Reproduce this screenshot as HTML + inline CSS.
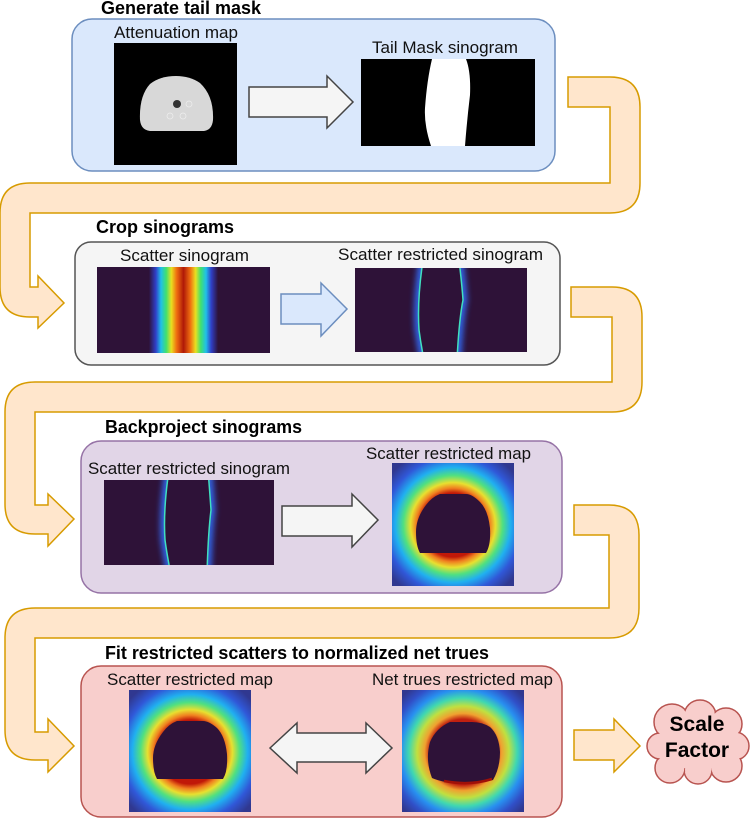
<!DOCTYPE html>
<html><head><meta charset="utf-8"><style>
html,body{margin:0;padding:0;background:#fff;}
svg{display:block;}
text{font-family:"Liberation Sans",sans-serif;}
.t{font-weight:bold;font-size:18px;fill:#000;}
.l{font-size:17px;fill:#111;}
</style></head><body>
<svg width="750" height="818" viewBox="0 0 750 818" xmlns="http://www.w3.org/2000/svg">
<defs>
<linearGradient id="sg" x1="0" x2="1" y1="0" y2="0">
<stop offset="0" stop-color="#2e1238"/><stop offset="0.30" stop-color="#2e1238"/>
<stop offset="0.34" stop-color="#3040c8"/><stop offset="0.37" stop-color="#20c0e8"/>
<stop offset="0.40" stop-color="#40e070"/><stop offset="0.43" stop-color="#e8e020"/>
<stop offset="0.46" stop-color="#f07010"/><stop offset="0.50" stop-color="#b01808"/>
<stop offset="0.54" stop-color="#f07010"/><stop offset="0.57" stop-color="#e8e020"/>
<stop offset="0.60" stop-color="#40e070"/><stop offset="0.63" stop-color="#20c0e8"/>
<stop offset="0.66" stop-color="#3040c8"/><stop offset="0.70" stop-color="#2e1238"/>
<stop offset="1" stop-color="#2e1238"/>
</linearGradient>
<radialGradient id="rgA" gradientUnits="userSpaceOnUse" cx="453" cy="525" r="80">
<stop offset="0.40" stop-color="#c01808"/><stop offset="0.46" stop-color="#f08020"/>
<stop offset="0.53" stop-color="#e8e030"/><stop offset="0.62" stop-color="#50e080"/>
<stop offset="0.72" stop-color="#20b0f0"/><stop offset="0.85" stop-color="#3058d8"/>
<stop offset="1" stop-color="#303890"/>
</radialGradient>
<radialGradient id="rgB" gradientUnits="userSpaceOnUse" cx="190" cy="752" r="80">
<stop offset="0.40" stop-color="#c01808"/><stop offset="0.46" stop-color="#f08020"/>
<stop offset="0.53" stop-color="#e8e030"/><stop offset="0.62" stop-color="#50e080"/>
<stop offset="0.72" stop-color="#20b0f0"/><stop offset="0.85" stop-color="#3058d8"/>
<stop offset="1" stop-color="#303890"/>
</radialGradient>
<radialGradient id="rgC" gradientUnits="userSpaceOnUse" cx="463" cy="752" r="82">
<stop offset="0.40" stop-color="#c02010"/><stop offset="0.47" stop-color="#f0a030"/>
<stop offset="0.56" stop-color="#c0e040"/><stop offset="0.66" stop-color="#40d8b0"/>
<stop offset="0.76" stop-color="#2890f0"/><stop offset="0.88" stop-color="#3050c8"/>
<stop offset="1" stop-color="#303890"/>
</radialGradient>
<filter id="bl" x="-50%" y="-10%" width="200%" height="120%"><feGaussianBlur stdDeviation="3"/></filter>
<clipPath id="c2"><rect x="355" y="268" width="172" height="84"/></clipPath>
<clipPath id="c3"><rect x="104" y="480" width="170" height="85"/></clipPath>
</defs>

<!-- Connectors -->
<g fill="#ffe6cc" stroke="#d79b00" stroke-width="1.5">
<path d="M568,77 L610,77 Q640,77 640,107 L640,183 Q640,213 610,213 L30,213 L30,287 L38,287 L38,276 L64,303 L38,328 L38,317 L30,317 Q0,317 0,287 L0,213 Q0,183 30,183 L610,183 L610,107 L568,107 Z"/>
<path d="M571,287 L612,287 Q642,287 642,317 L642,382 Q642,412 612,412 L35,412 L35,505 L48,505 L48,494 L74,519 L48,546 L48,534 L35,534 Q5,534 5,504 L5,412 Q5,382 35,382 L612,382 L612,317 L571,317 Z"/>
<path d="M574,505 L609,505 Q639,505 639,535 L639,608 Q639,638 609,638 L35,638 L35,732 L48,732 L48,719 L74,746 L48,772 L48,760 L35,760 Q5,760 5,730 L5,638 Q5,608 35,608 L609,608 L609,535 L574,535 Z"/>
<path d="M574,730 L614,730 L614,719 L640,746 L614,772 L614,760 L574,760 Z"/>
</g>

<!-- Box 1 -->
<text class="t" x="101" y="14" textLength="160" lengthAdjust="spacingAndGlyphs">Generate tail mask</text>
<rect x="72" y="19" width="483" height="152" rx="20" fill="#dae8fc" stroke="#6c8ebf" stroke-width="1.5"/>
<text class="l" x="114" y="38" textLength="124" lengthAdjust="spacingAndGlyphs">Attenuation map</text>
<rect x="114" y="43" width="123" height="122" fill="#000"/>
<path d="M150,131 L204,131 Q212,130 213,120 Q214,96 200,83 Q190,76 176,76 Q160,76 150,84 Q139,96 140,120 Q141,130 150,131 Z" fill="#d8d8d8"/>
<circle cx="177" cy="104" r="4" fill="#333"/>
<circle cx="170" cy="116" r="3" fill="none" stroke="#eee" stroke-width="0.7"/>
<circle cx="183" cy="116" r="3" fill="none" stroke="#eee" stroke-width="0.7"/>
<circle cx="189" cy="104" r="3" fill="none" stroke="#eee" stroke-width="0.7"/>
<text class="l" x="372" y="53" textLength="146" lengthAdjust="spacingAndGlyphs">Tail Mask sinogram</text>
<rect x="361" y="59" width="174" height="87" fill="#000"/>
<path d="M432,59 L466,59 Q471,72 470,95 Q467,120 465,146 L431,146 Q424,125 425,108 Q427,80 432,59 Z" fill="#fff"/>
<path d="M249,87 L327,87 L327,76 L353,102 L327,128 L327,117 L249,117 Z" fill="#f5f5f5" stroke="#444" stroke-width="1.5"/>

<!-- Box 2 -->
<text class="t" x="96" y="233" textLength="138" lengthAdjust="spacingAndGlyphs">Crop sinograms</text>
<rect x="75" y="242" width="485" height="123" rx="16" fill="#f5f5f5" stroke="#555" stroke-width="1.5"/>
<text class="l" x="120" y="261" textLength="129" lengthAdjust="spacingAndGlyphs">Scatter sinogram</text>
<rect x="97" y="267" width="173" height="86" fill="url(#sg)"/>
<text class="l" x="338" y="260" textLength="205" lengthAdjust="spacingAndGlyphs">Scatter restricted sinogram</text>
<g clip-path="url(#c2)">
<rect x="355" y="268" width="172" height="84" fill="#2e1238"/>
<path d="M423,260 Q417,300 419,330 Q421,345 424,360 L457,360 Q459,320 463,300 Q462,285 459,260 Z" fill="none" stroke="#3060e0" stroke-width="9" filter="url(#bl)"/>
<path d="M423,260 Q417,300 419,330 Q421,345 424,360 L457,360 Q459,320 463,300 Q462,285 459,260 Z" fill="#2e1238" stroke="#40e0c0" stroke-width="1.5"/>
</g>
<path d="M281,294 L321,294 L321,283 L347,309 L321,336 L321,324 L281,324 Z" fill="#dae8fc" stroke="#6c8ebf" stroke-width="1.5"/>

<!-- Box 3 -->
<text class="t" x="105" y="433" textLength="197" lengthAdjust="spacingAndGlyphs">Backproject sinograms</text>
<rect x="81" y="441" width="481" height="152" rx="20" fill="#e1d5e7" stroke="#9673a6" stroke-width="1.5"/>
<text class="l" x="88" y="474" textLength="202" lengthAdjust="spacingAndGlyphs">Scatter restricted sinogram</text>
<g clip-path="url(#c3)">
<rect x="104" y="480" width="170" height="85" fill="#2e1238"/>
<path d="M169,470 Q163,510 165,540 Q167,555 171,575 L207,575 Q208,535 211,510 Q210,495 208,470 Z" fill="none" stroke="#3060e0" stroke-width="9" filter="url(#bl)"/>
<path d="M169,470 Q163,510 165,540 Q167,555 171,575 L207,575 Q208,535 211,510 Q210,495 208,470 Z" fill="#2e1238" stroke="#40e0c0" stroke-width="1.5"/>
</g>
<path d="M282,506 L352,506 L352,494 L378,520 L352,547 L352,536 L282,536 Z" fill="#f5f5f5" stroke="#444" stroke-width="1.5"/>
<text class="l" x="366" y="459" textLength="165" lengthAdjust="spacingAndGlyphs">Scatter restricted map</text>
<rect x="392" y="463" width="122" height="123" fill="url(#rgA)"/>
<path d="M420,553 L486,553 Q491,545 490,528 Q488,510 480,502 Q472,494 466,494 L440,494 Q432,497 426,505 Q416,518 416,532 Q416,546 420,553 Z" fill="#2e1238"/>

<!-- Box 4 -->
<text class="t" x="105" y="659" textLength="384" lengthAdjust="spacingAndGlyphs">Fit restricted scatters to normalized net trues</text>
<rect x="81" y="666" width="481" height="151" rx="20" fill="#f8cecc" stroke="#b85450" stroke-width="1.5"/>
<text class="l" x="107" y="685" textLength="166" lengthAdjust="spacingAndGlyphs">Scatter restricted map</text>
<rect x="129" y="690" width="122" height="122" fill="url(#rgB)"/>
<path d="M157,779 L223,779 Q228,771 227,754 Q225,736 217,728 Q209,721 203,721 L177,721 Q169,724 163,732 Q153,745 153,758 Q153,772 157,779 Z" fill="#2e1238"/>
<text class="l" x="372" y="685" textLength="181" lengthAdjust="spacingAndGlyphs">Net trues restricted map</text>
<rect x="402" y="690" width="122" height="122" fill="url(#rgC)"/>
<path d="M432,778 Q445,784 470,783 L493,780 Q500,768 500,752 Q499,735 490,727 Q482,722 472,722 L450,722 Q436,728 430,742 Q425,760 432,778 Z" fill="#2e1238"/>
<path d="M444,781 Q470,786 492,779" fill="none" stroke="#a01008" stroke-width="2.5"/>
<path d="M270,748 L297,723 L297,733 L366,733 L366,723 L392,748 L366,773 L366,762 L297,762 L297,773 Z" fill="#f5f5f5" stroke="#444" stroke-width="1.5"/>

<!-- Cloud -->
<g fill="#f8cecc" stroke="#b85450" stroke-width="1.5">
<circle cx="672" cy="722" r="18"/><circle cx="700" cy="716" r="16"/><circle cx="726" cy="724" r="16"/>
<circle cx="735" cy="746" r="14"/><circle cx="726" cy="766" r="16"/><circle cx="698" cy="770" r="14"/>
<circle cx="670" cy="768" r="15"/><circle cx="660" cy="746" r="13"/>
</g>
<g fill="#f8cecc">
<circle cx="672" cy="722" r="17"/><circle cx="700" cy="716" r="15"/><circle cx="726" cy="724" r="15"/>
<circle cx="735" cy="746" r="13"/><circle cx="726" cy="766" r="15"/><circle cx="698" cy="770" r="13"/>
<circle cx="670" cy="768" r="14"/><circle cx="660" cy="746" r="12"/><ellipse cx="698" cy="744" rx="36" ry="26"/>
</g>
<text x="697" y="731" text-anchor="middle" style="font-weight:bold;font-size:21px">Scale</text>
<text x="697" y="757" text-anchor="middle" style="font-weight:bold;font-size:21px">Factor</text>
</svg>
</body></html>
